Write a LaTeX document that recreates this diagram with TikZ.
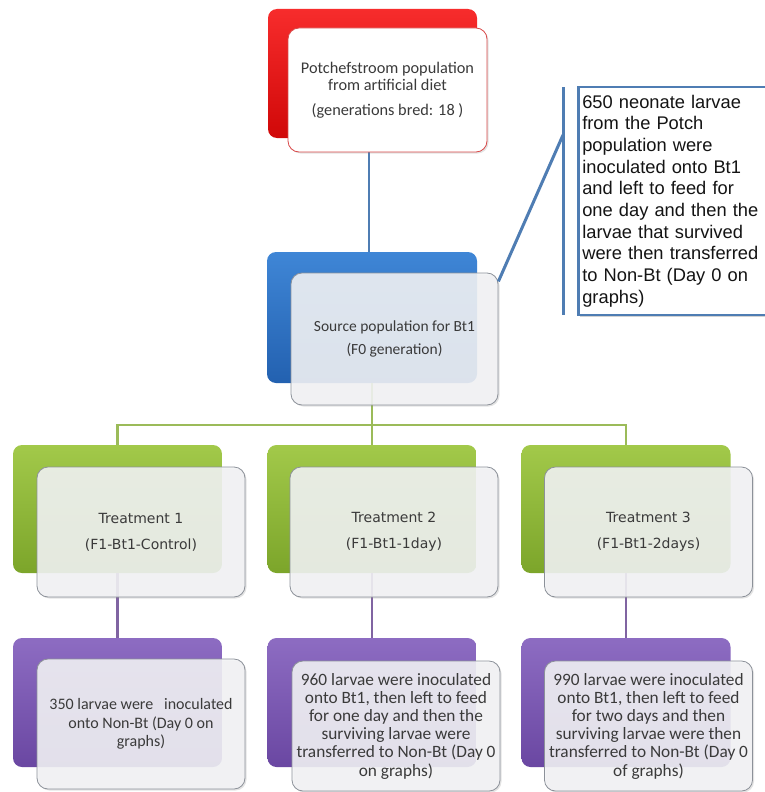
\documentclass[tikz,border=0pt]{standalone}
\usepackage{fontspec}
\setmainfont{Carlito}
\newfontfamily\calloutfont{Liberation Sans}
\newfontfamily\treatfont{DejaVu Sans}
\usetikzlibrary{shadows}
\definecolor{txt}{HTML}{3A3A3A}
\definecolor{redT}{HTML}{F72C2C}
\definecolor{redB}{HTML}{D00808}
\definecolor{bluT}{HTML}{3F86D6}
\definecolor{bluB}{HTML}{2361B0}
\definecolor{grnT}{HTML}{A2C94A}
\definecolor{grnB}{HTML}{7CA52A}
\definecolor{purT}{HTML}{8D6CC2}
\definecolor{purB}{HTML}{6A47A2}
\definecolor{frontfill}{HTML}{F3F4F6}
\definecolor{frontdraw}{HTML}{8C9199}
\definecolor{redline}{HTML}{D94848}
\definecolor{steel}{HTML}{4F7DB3}
\definecolor{grnline}{HTML}{9BBB59}
\definecolor{purline}{HTML}{8064A2}
\begin{document}
\begin{tikzpicture}[x=1pt,y=-1pt,
  backbox/.style={rounded corners=9pt, minimum width=209pt, minimum height=129pt, inner sep=0pt, draw=none},
  frontbox/.style={rounded corners=11pt, minimum width=208pt, minimum height=130pt, inner sep=0pt,
    draw=frontdraw, line width=0.8pt, fill=frontfill, fill opacity=0.88, text opacity=1,
    drop shadow={opacity=0.22, shadow xshift=1.5pt, shadow yshift=-1.5pt}, text=txt, align=center},
  redbox/.style={backbox, top color=redT, bottom color=redB},
  bluebox/.style={backbox, top color=bluT, bottom color=bluB},
  greenbox/.style={backbox, top color=grnT, bottom color=grnB},
  purplebox/.style={backbox, top color=purT, bottom color=purB},
  treattext/.style={font=\treatfont\fontsize{14}{14.5}\selectfont},
  purptext/.style={font=\fontsize{17.3}{18.2}\selectfont},
  steelline/.style={draw=steel, line width=2pt},
  greenline/.style={draw=grnline, line width=2.6pt},
  purpleline/.style={draw=purline, line width=2.6pt},
  calloutbox/.style={draw=steel, line width=2.6pt, fill=white, anchor=west, inner xsep=4pt, inner ysep=0pt,
    text width=184pt, minimum height=228pt, align=left, text=black!92,
    font=\calloutfont\fontsize{18.3}{21.7}\selectfont,
    drop shadow={opacity=0.35, shadow xshift=2pt, shadow yshift=-2pt}}
]
\useasboundingbox (0,0) rectangle (764,792);
\fill[white] (0,0) rectangle (764,792);

% coordinates for connectors
\coordinate (c1) at (369,0);
\coordinate (hy) at (0,425);
\coordinate (bT) at (563,87);
\coordinate (bB) at (563,315);
\coordinate (bM) at (563,135);

% back boxes
\node[redbox] (topB) at (372.5,73.5) {};
\node[bluebox, minimum width=210pt, minimum height=131pt] (blueB) at (372,317.5) {};
\node[greenbox, minimum height=128pt] (g1B) at (117.5,509) {};
\node[greenbox, minimum height=128pt] (g2B) at (372,509) {};
\node[greenbox, minimum height=128pt] (g3B) at (626,509) {};
\node[purplebox] (p1B) at (117.5,702.5) {};
\node[purplebox] (p2B) at (372,702.5) {};
\node[purplebox] (p3B) at (626,702.5) {};

% connectors
\draw[steelline] (topB.south -| c1) -- (blueB.north -| c1);
\draw[greenline] (blueB.south) -- (blueB.south |- hy);
\draw[greenline, line join=miter] (g1B.north) |- (g3B.north |- hy) -- (g3B.north);
\draw[greenline] (g2B.north |- hy) -- (g2B.north);
\draw[purpleline] (g1B.south) -- (p1B.north);
\draw[purpleline] (g2B.south) -- (p2B.north);
\draw[purpleline] (g3B.south) -- (p3B.north);

% front boxes
\node[frontbox, fill=white, fill opacity=1, draw=redline, minimum width=199pt, minimum height=124pt,
  font=\fontsize{16.3}{17}\selectfont] (topF) at (387.5,90)
  {Potchefstroom population\\from artificial diet\\[8pt](generations bred: 18 )};
\node[frontbox, minimum width=207pt, minimum height=132pt, font=\fontsize{15.5}{16}\selectfont] (blueF) at (394.5,339)
  {Source population for Bt1\\[7pt](F0 generation)};
\node[frontbox, treattext] (g1F) at (141,532) {Treatment 1\\[11.5pt](F1-Bt1-Control)};
\node[frontbox, treattext] (g2F) at (394,532) {Treatment 2\\[11.5pt](F1-Bt1-1day)};
\node[frontbox, treattext] (g3F) at (648.5,532) {Treatment 3\\[11.5pt](F1-Bt1-2days)};
\node[frontbox, font=\fontsize{16}{18.5}\selectfont] (p1F) at (141,724)
  {350 larvae were\ \ \ inoculated\\onto Non-Bt (Day 0 on\\graphs)};
\node[frontbox, purptext] (p2F) at (396,726)
  {960 larvae were inoculated\\onto Bt1, then left to feed\\for one day and then the\\surviving larvae were\\transferred to Non-Bt (Day 0\\on graphs)};
\node[frontbox, purptext] (p3F) at (648.5,726)
  {990 larvae were inoculated\\onto Bt1, then left to feed\\for two days and then\\surviving larvae were then\\transferred to Non-Bt (Day 0\\of graphs)};

% callout
\node[calloutbox] (call) at (577,201)
  {650 neonate larvae\\from the Potch\\population were\\inoculated onto Bt1\\and left to feed for\\one day and then the\\larvae that survived\\were then transferred\\to Non-Bt (Day 0 on\\graphs)};
\draw[steelline, line width=3pt] (bT) -- (bB);
\draw[steelline, line width=3pt] (bM) -- (blueF.29);
\end{tikzpicture}
\end{document}
